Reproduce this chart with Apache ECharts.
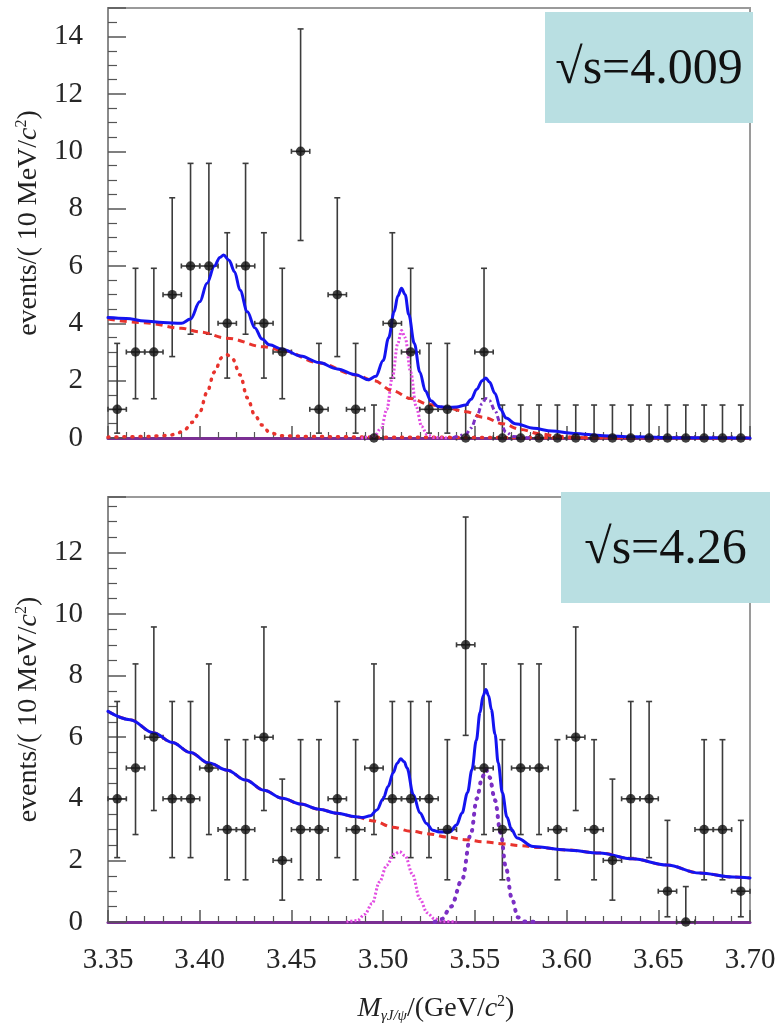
<!DOCTYPE html>
<html>
<head>
<meta charset="utf-8">
<script src="https://cdn.jsdelivr.net/npm/echarts@6/dist/echarts.min.js"></script>
<style>
  html, body { margin: 0; padding: 0; background: #fff; }
  #chart { width: 781px; height: 1027px; }
</style>
</head>
<body>
<div id="chart"></div>
<script>
// ---- binned data: 10 MeV bins of M(gamma J/psi) ----
const binCenters = [3.355, 3.365, 3.375, 3.385, 3.395, 3.405, 3.415, 3.425, 3.435, 3.445,
                    3.455, 3.465, 3.475, 3.485, 3.495, 3.505, 3.515, 3.525, 3.535, 3.545,
                    3.555, 3.565, 3.575, 3.585, 3.595, 3.605, 3.615, 3.625, 3.635, 3.645,
                    3.655, 3.665, 3.675, 3.685, 3.695];
const countsTop    = [1, 3, 3, 5, 6, 6, 4, 6, 4, 3, 10, 1, 5, 1, 0, 4, 3, 1, 1, 0,
                      3, 0, 0, 0, 0, 0, 0, 0, 0, 0, 0, 0, 0, 0, 0];
const countsBottom = [4, 5, 6, 4, 4, 5, 3, 3, 6, 2, 3, 3, 4, 3, 5, 4, 4, 4, 3, 9,
                      5, 3, 5, 5, 3, 6, 3, 2, 4, 4, 1, 0, 3, 3, 1];
// asymmetric (Poisson) error-bar edges, indexed by the bin count
const poissonLow  = [0, 0.17, 0.71, 1.37, 2.09, 2.84, 3.62, 4.42, 5.23, 6.06, 6.89];
const poissonHigh = [1.15, 3.30, 4.64, 5.92, 7.16, 8.38, 9.58, 10.77, 11.95, 13.15, 14.27];

const xTicks = [3.35, 3.40, 3.45, 3.50, 3.55, 3.60, 3.65, 3.70];
const energyLabels = ['√s=4.009', '√s=4.26'];

// ---- fit curves, sqrt(s)=4.009 ----
const fitTop = [[3.350,4.20],[3.360,4.17],[3.370,4.08],[3.380,4.03],[3.390,4.00],[3.395,4.15],
  [3.400,4.75],[3.404,5.40],[3.408,6.00],[3.411,6.30],[3.413,6.38],[3.416,6.20],[3.419,5.80],
  [3.422,5.15],[3.426,4.40],[3.430,3.85],[3.434,3.45],[3.438,3.25],[3.445,3.10],[3.455,2.86],
  [3.465,2.63],[3.475,2.41],[3.485,2.21],[3.492,2.03],[3.496,2.15],[3.500,2.70],[3.503,3.50],
  [3.506,4.40],[3.508,4.95],[3.510,5.22],[3.512,5.00],[3.514,4.30],[3.517,3.30],[3.520,2.30],
  [3.523,1.65],[3.526,1.30],[3.530,1.10],[3.535,1.07],[3.540,1.08],[3.545,1.15],[3.548,1.35],
  [3.551,1.70],[3.554,2.00],[3.556,2.09],[3.558,1.95],[3.561,1.55],[3.564,1.00],[3.567,0.70],
  [3.572,0.50],[3.582,0.34],[3.592,0.24],[3.604,0.16],[3.620,0.08],[3.636,0.04],[3.660,0.01],
  [3.700,0.00]];
const bkgTop = [[3.350,4.15],[3.370,4.02],[3.390,3.83],[3.400,3.70],[3.415,3.48],[3.435,3.18],
  [3.445,3.06],[3.465,2.62],[3.485,2.20],[3.495,2.00],[3.505,1.65],[3.515,1.38],[3.525,1.17],
  [3.535,1.05],[3.545,0.92],[3.555,0.72],[3.565,0.50],[3.575,0.30],[3.585,0.15],[3.595,0.06],
  [3.610,0.01],[3.700,0.00]];
const chic0Top = [[3.350,0.03],[3.370,0.05],[3.380,0.08],[3.384,0.10],[3.388,0.17],[3.392,0.30],
  [3.396,0.55],[3.400,0.90],[3.404,1.60],[3.408,2.30],[3.412,2.80],[3.415,2.90],[3.418,2.75],
  [3.422,2.20],[3.426,1.40],[3.430,0.80],[3.434,0.45],[3.438,0.20],[3.444,0.08],[3.460,0.05],
  [3.500,0.03],[3.550,0.02],[3.600,0.01],[3.700,0.00]];
const chic1Top = [[3.488,0.00],[3.495,0.05],[3.499,0.35],[3.502,1.00],[3.505,2.10],[3.508,3.30],
  [3.510,3.75],[3.512,3.50],[3.515,2.30],[3.518,1.10],[3.521,0.40],[3.524,0.12],[3.528,0.02],
  [3.535,0.00]];
const chic2Top = [[3.538,0.00],[3.545,0.12],[3.548,0.35],[3.551,0.75],[3.554,1.20],[3.556,1.38],
  [3.558,1.30],[3.561,0.95],[3.564,0.50],[3.567,0.20],[3.571,0.05],[3.580,0.00]];

// ---- fit curves, sqrt(s)=4.26 ----
const fitBottom = [[3.350,6.84],[3.362,6.57],[3.375,6.14],[3.385,5.83],[3.395,5.50],[3.405,5.16],
  [3.415,4.93],[3.425,4.61],[3.435,4.28],[3.445,4.02],[3.455,3.83],[3.465,3.66],[3.475,3.53],
  [3.485,3.42],[3.489,3.39],[3.493,3.45],[3.4966,3.64],[3.500,4.00],[3.5027,4.40],[3.5055,4.85],
  [3.5076,5.15],[3.5096,5.30],[3.5115,5.20],[3.513,5.00],[3.5165,4.13],[3.520,3.55],[3.5236,3.20],
  [3.527,2.98],[3.5306,2.92],[3.5365,2.93],[3.540,3.15],[3.543,3.54],[3.546,4.20],[3.5484,4.94],
  [3.5508,5.90],[3.5528,6.80],[3.5545,7.35],[3.556,7.55],[3.5575,7.35],[3.559,6.90],[3.561,6.10],
  [3.5627,5.17],[3.565,4.20],[3.5675,3.41],[3.570,3.00],[3.573,2.73],[3.5818,2.45],[3.600,2.34],
  [3.618,2.24],[3.636,2.05],[3.6547,1.85],[3.6725,1.59],[3.6907,1.46],[3.700,1.43]];
const bkgBottom = [[3.350,6.84],[3.362,6.57],[3.375,6.14],[3.385,5.83],[3.395,5.50],[3.405,5.16],
  [3.415,4.93],[3.425,4.61],[3.435,4.28],[3.445,4.02],[3.455,3.83],[3.465,3.66],[3.475,3.53],
  [3.485,3.41],[3.495,3.28],[3.505,3.08],[3.515,2.95],[3.525,2.86],[3.535,2.76],[3.545,2.67],
  [3.555,2.60],[3.565,2.54],[3.575,2.48],[3.585,2.42],[3.600,2.34],[3.618,2.24],[3.636,2.05],
  [3.6547,1.85],[3.6725,1.59],[3.6907,1.46],[3.700,1.43]];
const chic1Bottom = [[3.480,0.00],[3.486,0.05],[3.490,0.25],[3.494,0.60],[3.498,1.30],[3.502,1.85],
  [3.506,2.20],[3.509,2.28],[3.512,2.15],[3.516,1.55],[3.520,0.75],[3.524,0.30],[3.528,0.10],
  [3.533,0.02],[3.540,0.00]];
const chic2Bottom = [[3.528,0.00],[3.532,0.10],[3.537,0.50],[3.543,1.37],[3.548,2.90],[3.551,4.00],
  [3.554,4.70],[3.556,4.95],[3.558,4.70],[3.561,3.95],[3.564,2.90],[3.567,1.75],[3.570,0.80],
  [3.5735,0.15],[3.577,0.02],[3.585,0.00]];

const SERIF = "'Liberation Serif', 'Times New Roman', serif";

const chart = echarts.init(document.getElementById('chart'), null, { renderer: 'canvas' });

function errorBars(gi, counts) {
  return {
    type: 'custom', xAxisIndex: gi, yAxisIndex: gi, z: 2, silent: true,
    data: binCenters.map((x, i) => [x, poissonLow[counts[i]], poissonHigh[counts[i]], counts[i]]),
    encode: { x: 0, y: [1, 2] },
    renderItem(params, api) {
      const x = api.value(0);
      const lo = api.coord([x, api.value(1)]);
      const hi = api.coord([x, api.value(2)]);
      const l = api.coord([x - 0.005, api.value(3)]);
      const r = api.coord([x + 0.005, api.value(3)]);
      const st = { stroke: '#3c3c3c', lineWidth: 1.6 };
      const kids = [
        { type: 'line', shape: { x1: lo[0], y1: lo[1], x2: hi[0], y2: hi[1] }, style: st },
        { type: 'line', shape: { x1: hi[0] - 3, y1: hi[1], x2: hi[0] + 3, y2: hi[1] }, style: st },
        { type: 'line', shape: { x1: l[0], y1: l[1], x2: r[0], y2: r[1] }, style: st },
        { type: 'line', shape: { x1: l[0], y1: l[1] - 2.5, x2: l[0], y2: l[1] + 2.5 }, style: st },
        { type: 'line', shape: { x1: r[0], y1: r[1] - 2.5, x2: r[0], y2: r[1] + 2.5 }, style: st }
      ];
      if (api.value(1) > 0) {
        kids.push({ type: 'line', shape: { x1: lo[0] - 3, y1: lo[1], x2: lo[0] + 3, y2: lo[1] }, style: st });
      }
      return { type: 'group', children: kids };
    }
  };
}

function points(gi, counts) {
  return {
    type: 'scatter', xAxisIndex: gi, yAxisIndex: gi, z: 6, silent: true,
    symbol: 'circle', symbolSize: 9.5,
    itemStyle: { color: '#111' },
    data: binCenters.map((x, i) => [x, counts[i]])
  };
}

function curve(gi, data, color, width, dash, cap, z) {
  return {
    type: 'line', xAxisIndex: gi, yAxisIndex: gi, data, z: z || 3, silent: true,
    showSymbol: false, smooth: 0.35, smoothMonotone: 'x',
    lineStyle: { color, width, type: dash || 'solid', cap: cap || 'butt' }
  };
}

const yTitle = {
  name: '{t|events/( 10 MeV/}{i|c}{s|2}{t|)}',
  nameLocation: 'middle', nameRotate: 90, nameGap: 60,
  nameTextStyle: {
    rich: {
      t: { fontFamily: SERIF, fontSize: 28, color: '#222', lineHeight: 30 },
      i: { fontFamily: SERIF, fontSize: 28, fontStyle: 'italic', color: '#222', lineHeight: 30 },
      s: { fontFamily: SERIF, fontSize: 16, color: '#222', lineHeight: 14, verticalAlign: 'top' }
    }
  }
};

function yAxis(gi, max) {
  return Object.assign({
    gridIndex: gi, type: 'value', min: 0, max, interval: 2,
    axisLine: { show: true, lineStyle: { color: '#8a8a8a', width: 2 } },
    axisTick: { show: true, inside: true, length: 18, lineStyle: { color: '#555', width: 1.5 } },
    minorTick: { show: true, splitNumber: 4, length: 9, lineStyle: { color: '#555', width: 1.2 } },
    splitLine: { show: false },
    axisLabel: { fontFamily: SERIF, fontSize: 29, color: '#262626', margin: 25, showMaxLabel: false }
  }, yTitle);
}

function xAxis(gi, showLabels) {
  const ax = {
    gridIndex: gi, type: 'value', min: xTicks[0], max: xTicks[xTicks.length - 1], interval: 0.05,
    axisLine: { show: true, onZero: false, lineStyle: { color: '#7a2f93', width: 3 } },
    axisTick: { show: true, inside: true, length: 12, lineStyle: { color: '#555', width: 1.5 } },
    minorTick: { show: true, splitNumber: 5, length: 6, lineStyle: { color: '#555', width: 1.2 } },
    splitLine: { show: false },
    axisLabel: {
      show: showLabels, fontFamily: SERIF, fontSize: 29, color: '#262626', margin: 24,
      formatter: v => v.toFixed(2)
    }
  };
  if (showLabels) {
    Object.assign(ax, {
      name: '{m|M}{sub|γJ/ψ}{t|/(GeV/}{i|c}{s|2}{t|)}',
      nameLocation: 'middle', nameGap: 72,
      nameTextStyle: {
        padding: [0, 0, 0, 14],
        rich: {
          m: { fontFamily: SERIF, fontSize: 28, fontStyle: 'italic', color: '#222', lineHeight: 30 },
          sub: { fontFamily: SERIF, fontSize: 15, fontStyle: 'italic', color: '#222', lineHeight: 10, verticalAlign: 'bottom' },
          t: { fontFamily: SERIF, fontSize: 28, color: '#222', lineHeight: 30 },
          i: { fontFamily: SERIF, fontSize: 28, fontStyle: 'italic', color: '#222', lineHeight: 30 },
          s: { fontFamily: SERIF, fontSize: 16, color: '#222', lineHeight: 14, verticalAlign: 'top' }
        }
      }
    });
  }
  return ax;
}

function energyBox(x, y, w, h, text) {
  return {
    type: 'group', left: x, top: y, z: 100,
    children: [
      { type: 'rect', shape: { x: 0, y: 0, width: w, height: h }, style: { fill: '#b9dfe2' } },
      { type: 'text', x: w / 2, y: h / 2 + 2,
        style: { text, fontFamily: SERIF, fontSize: 50, fill: '#111', align: 'center', verticalAlign: 'middle' } }
    ]
  };
}

const RED = '#e8332d', BLUE = '#1414f0', MAGENTA = '#e24de2', PURPLE = '#7b2fc4';

chart.setOption({
  animation: false,
  backgroundColor: '#fff',
  grid: [
    { left: 108, top: 8, width: 642, height: 430, show: true, borderColor: '#9a9a9a', borderWidth: 2, backgroundColor: 'transparent' },
    { left: 108, top: 497, width: 642, height: 425, show: true, borderColor: '#9a9a9a', borderWidth: 2, backgroundColor: 'transparent' }
  ],
  xAxis: [xAxis(0, false), xAxis(1, true)],
  yAxis: [yAxis(0, 15), yAxis(1, 13.8)],
  series: [
    errorBars(0, countsTop),
    curve(0, chic0Top, RED, 3.5, [1, 7], 'round'),
    curve(0, chic1Top, MAGENTA, 3, [2, 2], 'butt'),
    curve(0, chic2Top, PURPLE, 3, [5, 3, 2, 3], 'butt'),
    curve(0, bkgTop, RED, 3, [7, 5], 'butt'),
    curve(0, fitTop, BLUE, 3, 'solid', 'round', 4),
    points(0, countsTop),

    errorBars(1, countsBottom),
    curve(1, chic1Bottom, MAGENTA, 3, [2, 2], 'butt'),
    curve(1, chic2Bottom, PURPLE, 4, [1, 7], 'round'),
    curve(1, bkgBottom, RED, 3, [7, 5], 'butt'),
    curve(1, fitBottom, BLUE, 3, 'solid', 'round', 4),
    points(1, countsBottom)
  ],
  graphic: [
    energyBox(545, 12, 208, 111, energyLabels[0]),
    energyBox(561, 492, 209, 111, energyLabels[1])
  ]
});
</script>
</body>
</html>
